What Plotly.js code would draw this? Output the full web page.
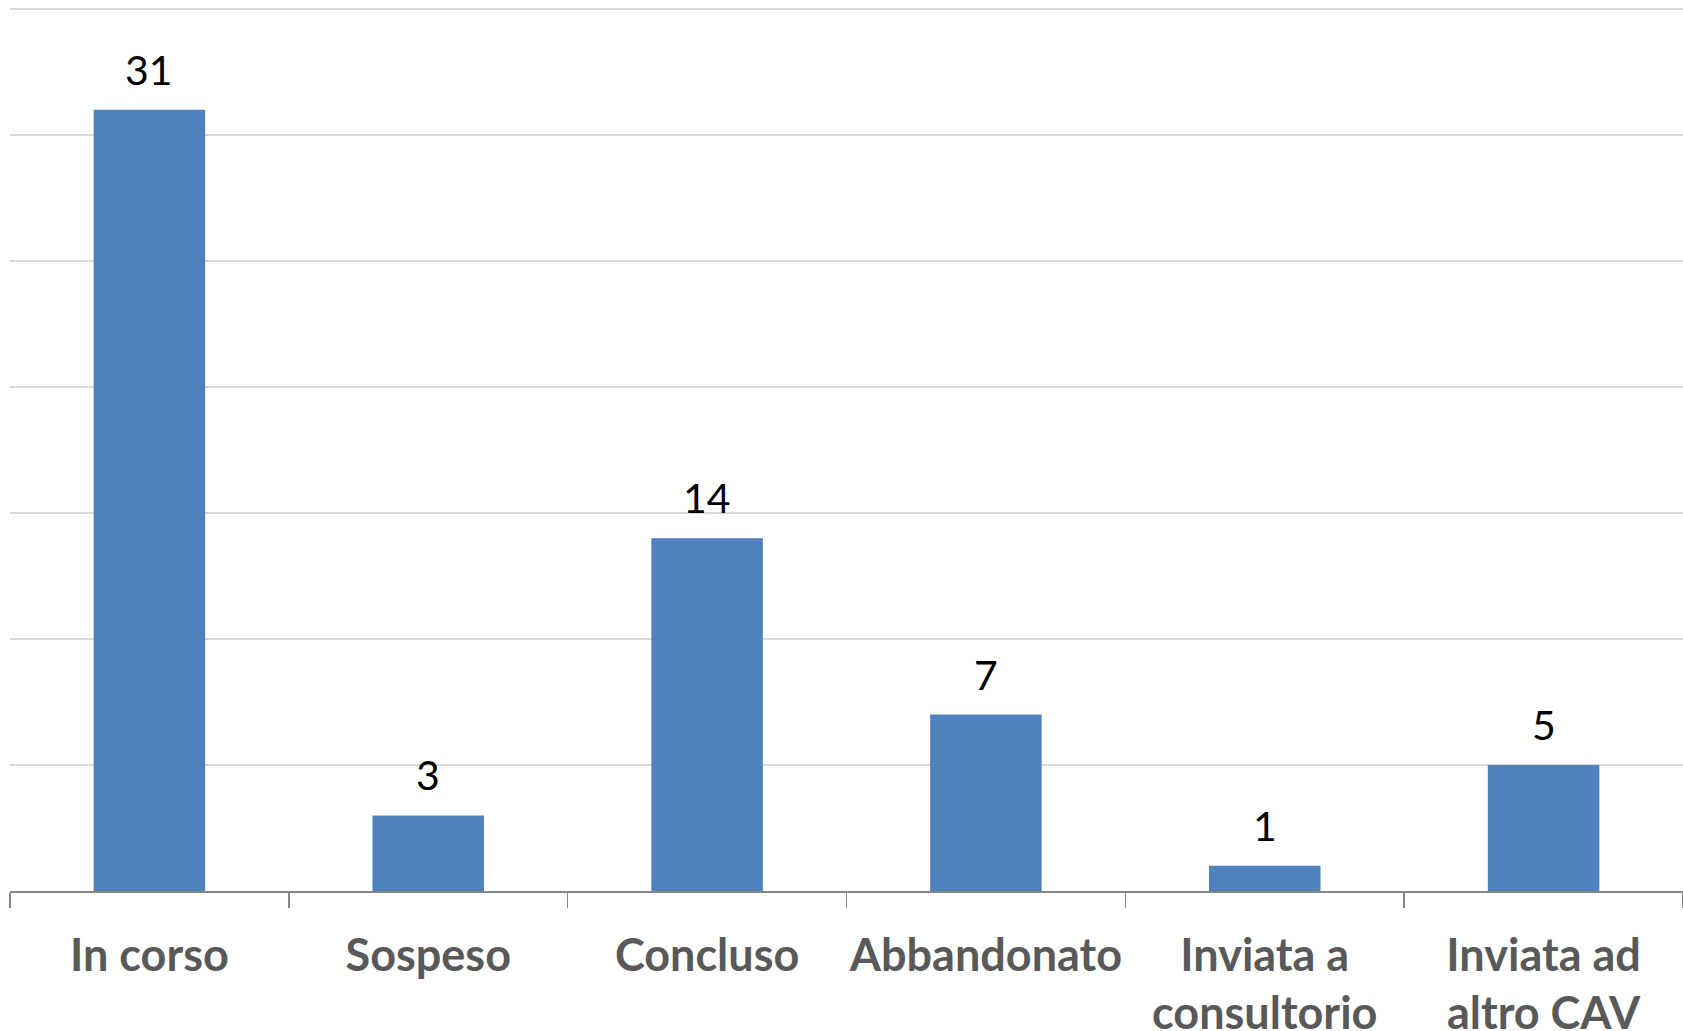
<!DOCTYPE html>
<html>
<head>
<meta charset="utf-8">
<script src="https://cdn.plot.ly/plotly-3.0.1.min.js"></script>
<style>html,body{margin:0;padding:0;background:#fff;}#chart{width:1683px;height:1031px;}</style>
</head>
<body>
<div id="chart"></div>
<script>
const categories = ["In corso", "Sospeso", "Concluso", "Abbandonato", "Inviata a<br>consultorio", "Inviata ad<br>altro CAV"];
const values = [31, 3, 14, 7, 1, 5];

const trace = {
  type: "bar",
  x: categories,
  y: values,
  marker: {color: "#4f81bd"},
  hoverinfo: "x+y"
};

const annotations = categories.map((c, i) => ({
  x: c, y: values[i], xref: "x", yref: "y",
  text: String(values[i]), showarrow: false,
  yanchor: "bottom", yshift: 14,
  font: {family: "Lato, 'Open Sans', sans-serif", size: 41, color: "#000000"}
}));

const layout = {
  width: 1683, height: 1031,
  margin: {l: 10, r: 0, t: 4, b: 140},
  paper_bgcolor: "#ffffff", plot_bgcolor: "#ffffff",
  bargap: 0.6,
  showlegend: false,
  xaxis: {
    type: "category",
    showline: true, linecolor: "#868686", linewidth: 1.5,
    ticks: "outside", tickson: "boundaries", ticklen: 15, tickcolor: "#868686", tickwidth: 1.5,
    showgrid: false, zeroline: false, tickangle: 0,
    tickfont: {family: "Lato, 'Open Sans', sans-serif", size: 45, color: "#595959", weight: "bold"},
    ticklabelstandoff: 24
  },
  yaxis: {
    range: [0, 35.2], tickmode: "linear", tick0: 0, dtick: 5, showticklabels: false, ticks: "",
    showgrid: true, gridcolor: "#d9d9d9", gridwidth: 1.5,
    zeroline: false, showline: false, fixedrange: true
  },
  annotations: annotations
};

Plotly.newPlot("chart", [trace], layout, {displayModeBar: false, staticPlot: true});
</script>
</body>
</html>
